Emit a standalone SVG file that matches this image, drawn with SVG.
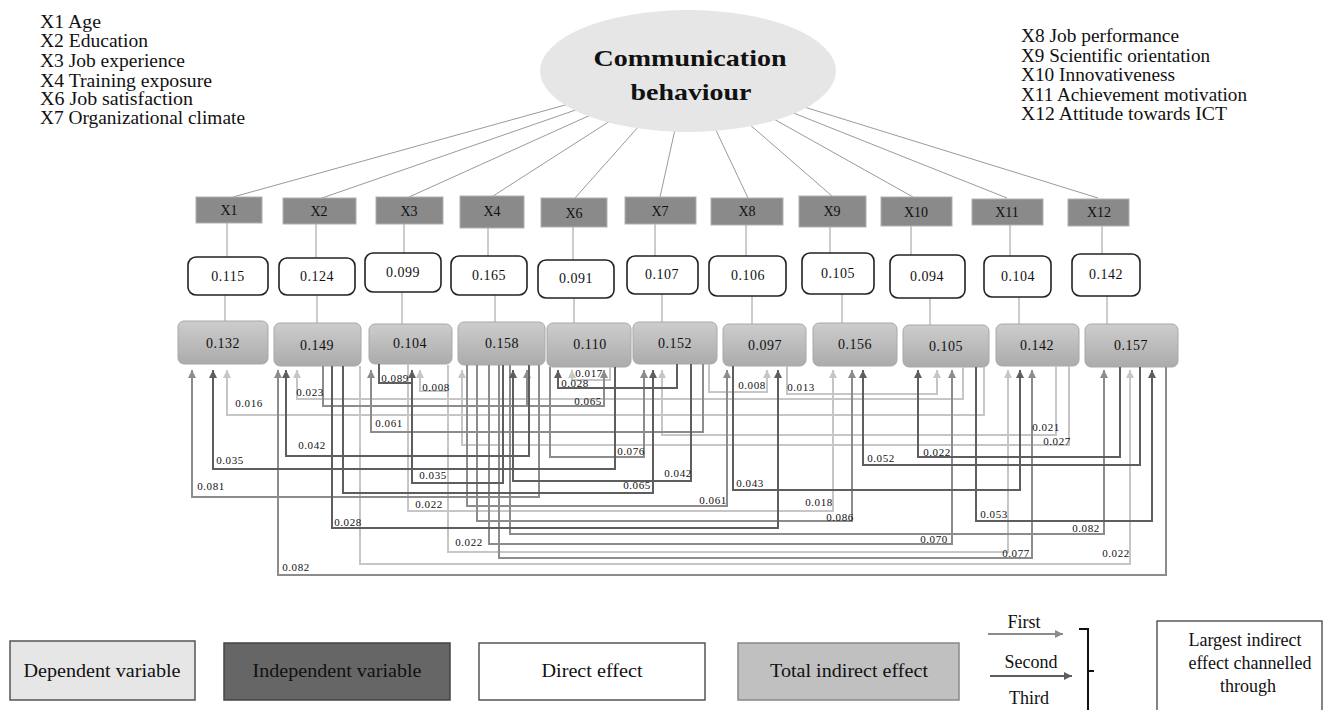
<svg xmlns="http://www.w3.org/2000/svg" width="1327" height="710" viewBox="0 0 1327 710">
<style>
text{font-family:"Liberation Serif","Times New Roman",serif;fill:#111}
.thin{stroke:#9a9a9a;stroke-width:1;fill:none}
.c{fill:none;stroke-width:2}
.cM{stroke:#8c8c8c}
.cD{stroke:#5e5e5e}
.cL{stroke:#c6c6c6}
.xb{fill:#8a8a8a;stroke:#b0b0b0;stroke-width:1}
.xt{font-size:14px;text-anchor:middle}
.db{fill:#fff;stroke:#222;stroke-width:1.6}
.dt{font-size:14px;text-anchor:middle;letter-spacing:0.5px}
.ib{fill:url(#ig);stroke:#a8a8a8;stroke-width:1}
.it{font-size:14px;text-anchor:middle;letter-spacing:0.5px}
.lb{font-size:11px;text-anchor:middle;letter-spacing:0.6px}
.leg{font-size:18px}
.lg{font-size:18px;text-anchor:middle}
</style>
<defs>
<linearGradient id="ig" x1="0" y1="0" x2="0" y2="1">
<stop offset="0" stop-color="#cdcdcd"/>
<stop offset="1" stop-color="#ababab"/>
</linearGradient>
<marker id="aM" markerWidth="8" markerHeight="9" refX="8" refY="4" orient="auto" markerUnits="userSpaceOnUse"><path d="M0,0 L8,4 L0,8 z" fill="#8c8c8c"/></marker>
<marker id="aD" markerWidth="8" markerHeight="9" refX="8" refY="4" orient="auto" markerUnits="userSpaceOnUse"><path d="M0,0 L8,4 L0,8 z" fill="#5e5e5e"/></marker>
<marker id="aL" markerWidth="8" markerHeight="9" refX="8" refY="4" orient="auto" markerUnits="userSpaceOnUse"><path d="M0,0 L8,4 L0,8 z" fill="#c6c6c6"/></marker>
</defs>
<rect width="1327" height="710" fill="#fff"/>

<!-- variable key texts -->
<g id="key-left" class="leg">
<text x="40" y="28" textLength="61" lengthAdjust="spacingAndGlyphs">X1 Age</text>
<text x="40" y="47" textLength="108" lengthAdjust="spacingAndGlyphs">X2 Education</text>
<text x="40" y="67" textLength="145" lengthAdjust="spacingAndGlyphs">X3 Job experience</text>
<text x="40" y="87" textLength="172" lengthAdjust="spacingAndGlyphs">X4 Training exposure</text>
<text x="40" y="105" textLength="153" lengthAdjust="spacingAndGlyphs">X6 Job satisfaction</text>
<text x="40" y="124" textLength="205" lengthAdjust="spacingAndGlyphs">X7 Organizational climate</text>
</g>
<g id="key-right" class="leg">
<text x="1021" y="42" textLength="158" lengthAdjust="spacingAndGlyphs">X8 Job performance</text>
<text x="1021" y="62" textLength="189" lengthAdjust="spacingAndGlyphs">X9 Scientific orientation</text>
<text x="1021" y="81" textLength="154" lengthAdjust="spacingAndGlyphs">X10 Innovativeness</text>
<text x="1021" y="101" textLength="226" lengthAdjust="spacingAndGlyphs">X11 Achievement motivation</text>
<text x="1021" y="120" textLength="206" lengthAdjust="spacingAndGlyphs">X12 Attitude towards ICT</text>
</g>

<!-- structural thin lines -->
<g id="structure-lines" class="thin">
<path d="M688,71 L233,197 M688,71 L322,198 M688,71 L409,197 M688,71 L493,196 M688,71 L575,198 M688,71 L660,197 M688,71 L748,198 M688,71 L832,196 M688,71 L913,197 M688,71 L1007,198 M688,71 L1098,198"/>
<path d="M227,223 V257 M316,224 V258 M404,223 V253 M488,228 V256 M573,227 V260 M655,224 V256 M746,225 V256 M830,227 V253 M911,226 V255 M1010,225 V256 M1102,226 V254"/>
<path d="M225,295 V321 M317,295 V323 M402,292 V324 M495,295 V322 M574,298 V323 M662,294 V322 M752,296 V324 M842,294 V323 M930,298 V325 M1019,297 V324 M1107,296 V324"/>
</g>

<g id="dependent">
<ellipse cx="688" cy="71" rx="148" ry="61" fill="#e6e6e6"/>
<text x="690" y="66" font-size="23" font-weight="bold" text-anchor="middle" textLength="193" lengthAdjust="spacingAndGlyphs">Communication</text>
<text x="691" y="100" font-size="23" font-weight="bold" text-anchor="middle" textLength="121" lengthAdjust="spacingAndGlyphs">behaviour</text>
</g>

<!-- independent variable nodes -->
<g id="X1"><rect class="xb" x="196" y="197" width="66" height="26"/><text class="xt" x="229" y="215">X1</text></g>
<g id="X2"><rect class="xb" x="283" y="198" width="73" height="26"/><text class="xt" x="319" y="216">X2</text></g>
<g id="X3"><rect class="xb" x="376" y="197" width="67" height="27"/><text class="xt" x="409" y="216">X3</text></g>
<g id="X4"><rect class="xb" x="460" y="196" width="64" height="32"/><text class="xt" x="492" y="216">X4</text></g>
<g id="X6"><rect class="xb" x="541" y="198" width="66" height="29"/><text class="xt" x="574" y="218">X6</text></g>
<g id="X7"><rect class="xb" x="625" y="197" width="71" height="27"/><text class="xt" x="660" y="216">X7</text></g>
<g id="X8"><rect class="xb" x="711" y="198" width="72" height="27"/><text class="xt" x="747" y="216">X8</text></g>
<g id="X9"><rect class="xb" x="799" y="196" width="67" height="31"/><text class="xt" x="832" y="216">X9</text></g>
<g id="X10"><rect class="xb" x="881" y="197" width="71" height="29"/><text class="xt" x="916" y="217">X10</text></g>
<g id="X11"><rect class="xb" x="972" y="199" width="71" height="26"/><text class="xt" x="1007" y="217">X11</text></g>
<g id="X12"><rect class="xb" x="1068" y="199" width="61" height="27"/><text class="xt" x="1099" y="217">X12</text></g>

<!-- direct effects -->
<g id="d1"><rect class="db" x="188" y="257" width="80" height="38" rx="8"/><text class="dt" x="228" y="281">0.115</text></g>
<g id="d2"><rect class="db" x="279" y="258" width="76" height="37" rx="8"/><text class="dt" x="317" y="281">0.124</text></g>
<g id="d3"><rect class="db" x="365" y="253" width="76" height="39" rx="8"/><text class="dt" x="403" y="277">0.099</text></g>
<g id="d4"><rect class="db" x="451" y="256" width="76" height="39" rx="8"/><text class="dt" x="489" y="280">0.165</text></g>
<g id="d6"><rect class="db" x="538" y="260" width="76" height="38" rx="8"/><text class="dt" x="576" y="283">0.091</text></g>
<g id="d7"><rect class="db" x="627" y="256" width="71" height="38" rx="8"/><text class="dt" x="662" y="279">0.107</text></g>
<g id="d8"><rect class="db" x="709" y="256" width="77" height="40" rx="8"/><text class="dt" x="748" y="280">0.106</text></g>
<g id="d9"><rect class="db" x="802" y="253" width="72" height="41" rx="8"/><text class="dt" x="838" y="278">0.105</text></g>
<g id="d10"><rect class="db" x="890" y="255" width="75" height="43" rx="8"/><text class="dt" x="927" y="281">0.094</text></g>
<g id="d11"><rect class="db" x="984" y="256" width="67" height="41" rx="8"/><text class="dt" x="1018" y="281">0.104</text></g>
<g id="d12"><rect class="db" x="1072" y="254" width="68" height="42" rx="8"/><text class="dt" x="1106" y="279">0.142</text></g>

<!-- total indirect effects -->
<g id="i1"><rect class="ib" x="178" y="321" width="90" height="43" rx="6"/><text class="it" x="223" y="348">0.132</text></g>
<g id="i2"><rect class="ib" x="274" y="323" width="87" height="43" rx="6"/><text class="it" x="317" y="350">0.149</text></g>
<g id="i3"><rect class="ib" x="369" y="324" width="83" height="40" rx="6"/><text class="it" x="410" y="348">0.104</text></g>
<g id="i4"><rect class="ib" x="458" y="322" width="87" height="43" rx="6"/><text class="it" x="502" y="348">0.158</text></g>
<g id="i6"><rect class="ib" x="547" y="323" width="84" height="44" rx="6"/><text class="it" x="590" y="349">0.110</text></g>
<g id="i7"><rect class="ib" x="633" y="322" width="84" height="42" rx="6"/><text class="it" x="675" y="348">0.152</text></g>
<g id="i8"><rect class="ib" x="723" y="324" width="83" height="42" rx="6"/><text class="it" x="765" y="350">0.097</text></g>
<g id="i9"><rect class="ib" x="813" y="323" width="84" height="43" rx="6"/><text class="it" x="855" y="349">0.156</text></g>
<g id="i10"><rect class="ib" x="903" y="325" width="86" height="42" rx="6"/><text class="it" x="946" y="351">0.105</text></g>
<g id="i11"><rect class="ib" x="996" y="324" width="83" height="42" rx="6"/><text class="it" x="1037" y="350">0.142</text></g>
<g id="i12"><rect class="ib" x="1085" y="324" width="93" height="43" rx="6"/><text class="it" x="1131" y="350">0.157</text></g>

<!-- indirect effect connectors -->
<g id="connectors" class="c">
<g class="cL">
<path d="M984,367 V415 H227 V370" marker-end="url(#aL)"/>
<path d="M963,367 V399 H297 V370" marker-end="url(#aL)"/>
<path d="M448,365 V552 H1008 V370" marker-end="url(#aL)"/>
<path d="M448,391 H420 V370" marker-end="url(#aL)"/>
<path d="M1069,366 V445 H462 V370" marker-end="url(#aL)"/>
<path d="M610,367 V380 H572 V370" marker-end="url(#aL)"/>
<path d="M1056,366 V435 H662 V370" marker-end="url(#aL)"/>
<path d="M709,364 V392 H767 V370" marker-end="url(#aL)"/>
<path d="M408,364 V511 H833 V370" marker-end="url(#aL)"/>
<path d="M787,366 V394 H937 V370" marker-end="url(#aL)"/>
<path d="M360,366 V564 H1130 V370" marker-end="url(#aL)"/>
</g>
<g class="cM">
<path d="M539,365 V497 H192 V370" marker-end="url(#aM)"/>
<path d="M1166,367 V575 H278 V370" marker-end="url(#aM)"/>
<path d="M703,364 V432 H371 V370" marker-end="url(#aM)"/>
<path d="M323,366 V406 H604 V370" marker-end="url(#aM)"/>
<path d="M527,406 V370" marker-end="url(#aM)"/>
<path d="M550,367 V457 H644 V370" marker-end="url(#aM)"/>
<path d="M467,365 V506 H727 V370" marker-end="url(#aM)"/>
<path d="M477,365 V521 H852 V370" marker-end="url(#aM)"/>
<path d="M489,365 V544 H952 V370" marker-end="url(#aM)"/>
<path d="M499,365 V558 H1032 V370" marker-end="url(#aM)"/>
<path d="M510,365 V534 H1104 V370" marker-end="url(#aM)"/>
</g>
<g class="cD">
<path d="M615,367 V469 H213 V370" marker-end="url(#aD)"/>
<path d="M529,365 V456 H286 V370" marker-end="url(#aD)"/>
<path d="M503,365 V483 H412 V370" marker-end="url(#aD)"/>
<path d="M379,364 V383 H412"/>
<path d="M691,364 V481 H513 V370" marker-end="url(#aD)"/>
<path d="M677,364 V388 H558 V370" marker-end="url(#aD)"/>
<path d="M343,366 V493 H653 V370" marker-end="url(#aD)"/>
<path d="M332,366 V528 H778 V370" marker-end="url(#aD)"/>
<path d="M1140,367 V465 H863 V370" marker-end="url(#aD)"/>
<path d="M1120,367 V457 H918 V370" marker-end="url(#aD)"/>
<path d="M733,366 V490 H1020 V370" marker-end="url(#aD)"/>
<path d="M976,367 V521 H1152 V370" marker-end="url(#aD)"/>
</g>
</g>

<!-- connector labels -->
<g id="connector-labels" class="lb">
<text x="395" y="382">0.089</text>
<text x="436" y="391">0.008</text>
<text x="589" y="377">0.017</text>
<text x="575" y="387">0.028</text>
<text x="310" y="396">0.023</text>
<text x="752" y="389">0.008</text>
<text x="801" y="391">0.013</text>
<text x="588" y="405">0.065</text>
<text x="249" y="407">0.016</text>
<text x="389" y="427">0.061</text>
<text x="1046" y="431">0.021</text>
<text x="1057" y="445">0.027</text>
<text x="312" y="449">0.042</text>
<text x="631" y="455">0.076</text>
<text x="881" y="462">0.052</text>
<text x="937" y="456">0.022</text>
<text x="230" y="464">0.035</text>
<text x="678" y="477">0.042</text>
<text x="433" y="479">0.035</text>
<text x="637" y="489">0.065</text>
<text x="750" y="487">0.043</text>
<text x="211" y="490">0.081</text>
<text x="713" y="504">0.061</text>
<text x="819" y="506">0.018</text>
<text x="429" y="508">0.022</text>
<text x="840" y="521">0.086</text>
<text x="994" y="518">0.053</text>
<text x="348" y="526">0.028</text>
<text x="1086" y="532">0.082</text>
<text x="934" y="543">0.070</text>
<text x="469" y="546">0.022</text>
<text x="1016" y="557">0.077</text>
<text x="1116" y="557">0.022</text>
<text x="296" y="571">0.082</text>
</g>

<!-- legend -->
<g id="legend-dependent"><rect x="10" y="641" width="185" height="59" fill="#e6e6e6" stroke="#555" stroke-width="1.5"/><text class="lg" x="102" y="677" textLength="157" lengthAdjust="spacingAndGlyphs">Dependent variable</text></g>
<g id="legend-independent"><rect x="224" y="643" width="226" height="57" fill="#666" stroke="#444" stroke-width="1.5"/><text class="lg" x="337" y="677" textLength="169" lengthAdjust="spacingAndGlyphs">Independent variable</text></g>
<g id="legend-direct"><rect x="479" y="643" width="226" height="57" fill="#fff" stroke="#555" stroke-width="1.5"/><text class="lg" x="592" y="677" textLength="101" lengthAdjust="spacingAndGlyphs">Direct effect</text></g>
<g id="legend-indirect"><rect x="738" y="643" width="221" height="57" fill="#c0c0c0" stroke="#888" stroke-width="1.5"/><text class="lg" x="849" y="677" textLength="158" lengthAdjust="spacingAndGlyphs">Total indirect effect</text></g>
<g id="legend-rank">
<text class="lg" x="1024" y="628">First</text>
<path d="M988,634 H1063" stroke="#8c8c8c" stroke-width="2" marker-end="url(#aM)"/>
<text class="lg" x="1031" y="668">Second</text>
<path d="M990,676 H1072" stroke="#5e5e5e" stroke-width="2" marker-end="url(#aD)"/>
<text class="lg" x="1029" y="704">Third</text>
<path d="M1079,629 H1088 V712 M1088,671 H1094" fill="none" stroke="#111" stroke-width="2"/>
</g>
<g id="legend-largest"><rect x="1157" y="621" width="165" height="95" fill="#fff" stroke="#333" stroke-width="1.2"/>
<text class="lg" x="1245" y="646">Largest indirect</text>
<text class="lg" x="1250" y="669">effect channelled</text>
<text class="lg" x="1248" y="692">through</text>
</g>
</svg>
